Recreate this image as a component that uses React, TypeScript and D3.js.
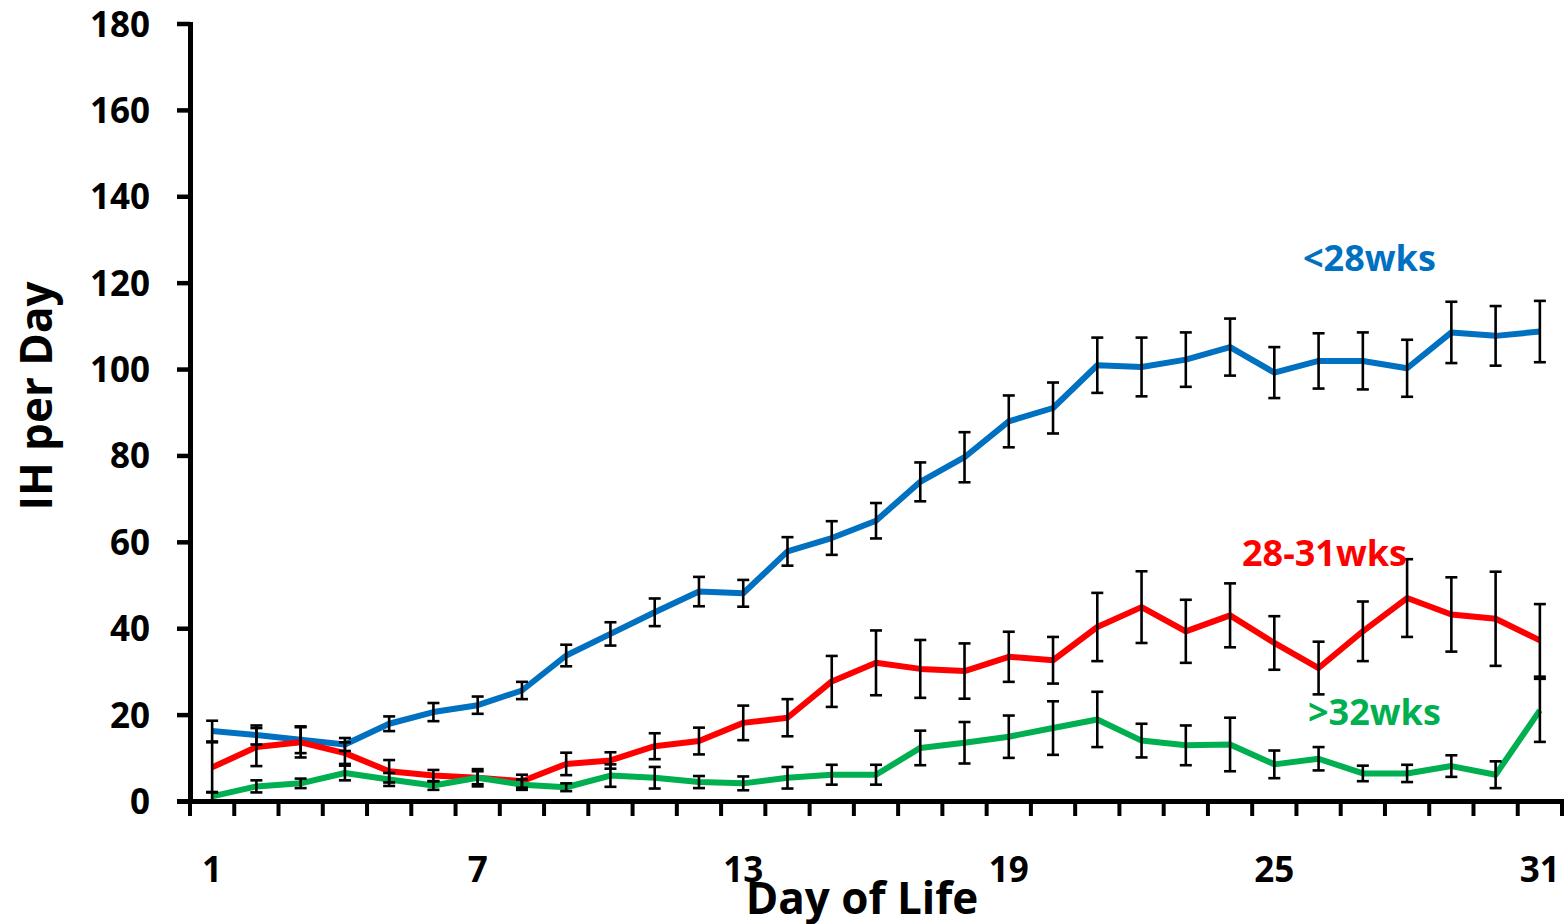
import React from "react";
import * as d3 from "d3";

const days = [1,2,3,4,5,6,7,8,9,10,11,12,13,14,15,16,17,18,19,20,21,22,23,24,25,26,27,28,29,30,31];
const tickDays = [1, 7, 13, 19, 25, 31];
const yTicks = [0, 20, 40, 60, 80, 100, 120, 140, 160, 180];

const blue = [16.3, 15.4, 14.3, 13.2, 18.0, 20.7, 22.3, 25.7, 33.8, 38.8, 43.8, 48.6, 48.2, 57.9, 61.0, 65.0, 74.0, 79.7, 88.0, 91.1, 101.0, 100.6, 102.3, 105.2, 99.3, 102.0, 102.0, 100.3, 108.6, 107.8, 108.8];
const blueErr = [2.4, 2.2, 3.1, 1.5, 1.7, 2.1, 2.0, 2.0, 2.5, 2.7, 3.2, 3.4, 3.1, 3.3, 3.9, 4.1, 4.5, 5.8, 6.0, 5.9, 6.4, 6.8, 6.3, 6.6, 5.9, 6.4, 6.6, 6.6, 7.1, 6.9, 7.1];

const red = [7.9, 12.6, 13.7, 11.2, 7.0, 6.0, 5.5, 4.7, 8.7, 9.5, 12.8, 14.0, 18.2, 19.4, 27.8, 32.1, 30.7, 30.2, 33.5, 32.7, 40.4, 45.0, 39.4, 43.1, 36.7, 30.9, 39.4, 47.1, 43.3, 42.3, 37.3];
const redErr = [5.8, 4.4, 3.5, 2.5, 2.6, 1.3, 1.5, 1.5, 2.6, 1.9, 3.0, 3.1, 4.0, 4.3, 5.9, 7.5, 6.7, 6.4, 5.8, 5.4, 7.9, 8.3, 7.3, 7.4, 6.2, 6.1, 6.9, 9.0, 8.6, 10.9, 8.4];

const green = [1.2, 3.5, 4.2, 6.6, 5.1, 3.7, 5.5, 3.9, 3.3, 6.0, 5.5, 4.5, 4.2, 5.5, 6.2, 6.2, 12.4, 13.6, 15.0, 17.0, 19.0, 14.1, 13.0, 13.2, 8.6, 9.9, 6.5, 6.5, 8.2, 6.2, 21.1];
const greenErr = [1.0, 1.4, 1.1, 1.7, 1.5, 1.0, 2.0, 1.2, 0.9, 2.6, 2.5, 1.4, 1.6, 2.5, 2.3, 2.3, 4.0, 4.8, 4.9, 6.2, 6.4, 3.9, 4.6, 6.2, 3.2, 2.7, 1.8, 2.0, 2.5, 3.1, 7.3];

const seriesNames = ["<28wks", "28-31wks", ">32wks"];
const seriesColors = ["#0070C0", "#FF0000", "#00B050"];

const FONT = "'Open Sans', 'Noto Sans', sans-serif";

export default function App() {
  const W = 1568, H = 924;
  const x = d3.scaleBand<number>().domain(days).range([190, 1562]).padding(0);
  const y = d3.scaleLinear().domain([0, 180]).range([801.5, 24]);
  const cx = (d: number) => (x(d) as number) + x.bandwidth() / 2;

  const series = [
    { name: seriesNames[0], color: seriesColors[0], vals: blue, errs: blueErr, lx: 1303, ly: 271 },
    { name: seriesNames[1], color: seriesColors[1], vals: red, errs: redErr, lx: 1242, ly: 566 },
    { name: seriesNames[2], color: seriesColors[2], vals: green, errs: greenErr, lx: 1308, ly: 725 },
  ];

  const line = d3.line<number>().x((_, i) => cx(days[i])).y((v) => y(v));
  const edges = days.map((d) => x(d) as number).concat([1562]);
  const cap = 6;

  return (
    <svg width={W} height={H} style={{ position: "absolute", left: 0, top: 0, background: "#fff" }} fontFamily={FONT}>
      <rect x={0} y={0} width={W} height={H} fill="#fff" />
      {/* lines */}
      {series.map((s) => (
        <path key={s.name} d={line(s.vals) || ""} fill="none" stroke={s.color} strokeWidth={6} strokeLinejoin="round" />
      ))}
      {/* error bars */}
      {series.map((s) => (
        <g key={s.name + "e"} stroke="#000" strokeWidth={2.6}>
          {s.vals.map((v, i) => {
            const px = cx(days[i]);
            const y1 = y(v + s.errs[i]);
            const y2 = y(Math.max(0, v - s.errs[i]));
            return (
              <g key={i}>
                <line x1={px} x2={px} y1={y1} y2={y2} />
                <line x1={px - cap} x2={px + cap} y1={y1} y2={y1} />
                <line x1={px - cap} x2={px + cap} y1={y2} y2={y2} />
              </g>
            );
          })}
        </g>
      ))}
      {/* y axis */}
      <line x1={190.5} x2={190.5} y1={22} y2={804} stroke="#000" strokeWidth={5} />
      {yTicks.map((t) => (
        <g key={t}>
          <line x1={177} x2={190} y1={y(t)} y2={y(t)} stroke="#000" strokeWidth={4.5} />
          <text x={150} y={y(t) + 12.5} textAnchor="end" fontSize={35} fontWeight={700} fill="#000">{t}</text>
        </g>
      ))}
      {/* x axis */}
      <line x1={177} x2={1564} y1={801.5} y2={801.5} stroke="#000" strokeWidth={5} />
      {edges.map((e, i) => (
        <line key={i} x1={e} x2={e} y1={801} y2={816} stroke="#000" strokeWidth={4} />
      ))}
      {tickDays.map((d) => (
        <text key={d} x={cx(d)} y={882} textAnchor="middle" fontSize={35} fontWeight={700} fill="#000">{d}</text>
      ))}
      {/* axis titles */}
      <text x={862} y={914} textAnchor="middle" fontSize={44} fontWeight={700} fill="#000">Day of Life</text>
      <text transform="translate(52,396) rotate(-90)" textAnchor="middle" fontSize={44} fontWeight={700} fill="#000">IH per Day</text>
      {/* series labels */}
      {series.map((s) => (
        <text key={s.name + "l"} x={s.lx} y={s.ly} fontSize={36} fontWeight={700} fill={s.color}>{s.name}</text>
      ))}
    </svg>
  );
}
